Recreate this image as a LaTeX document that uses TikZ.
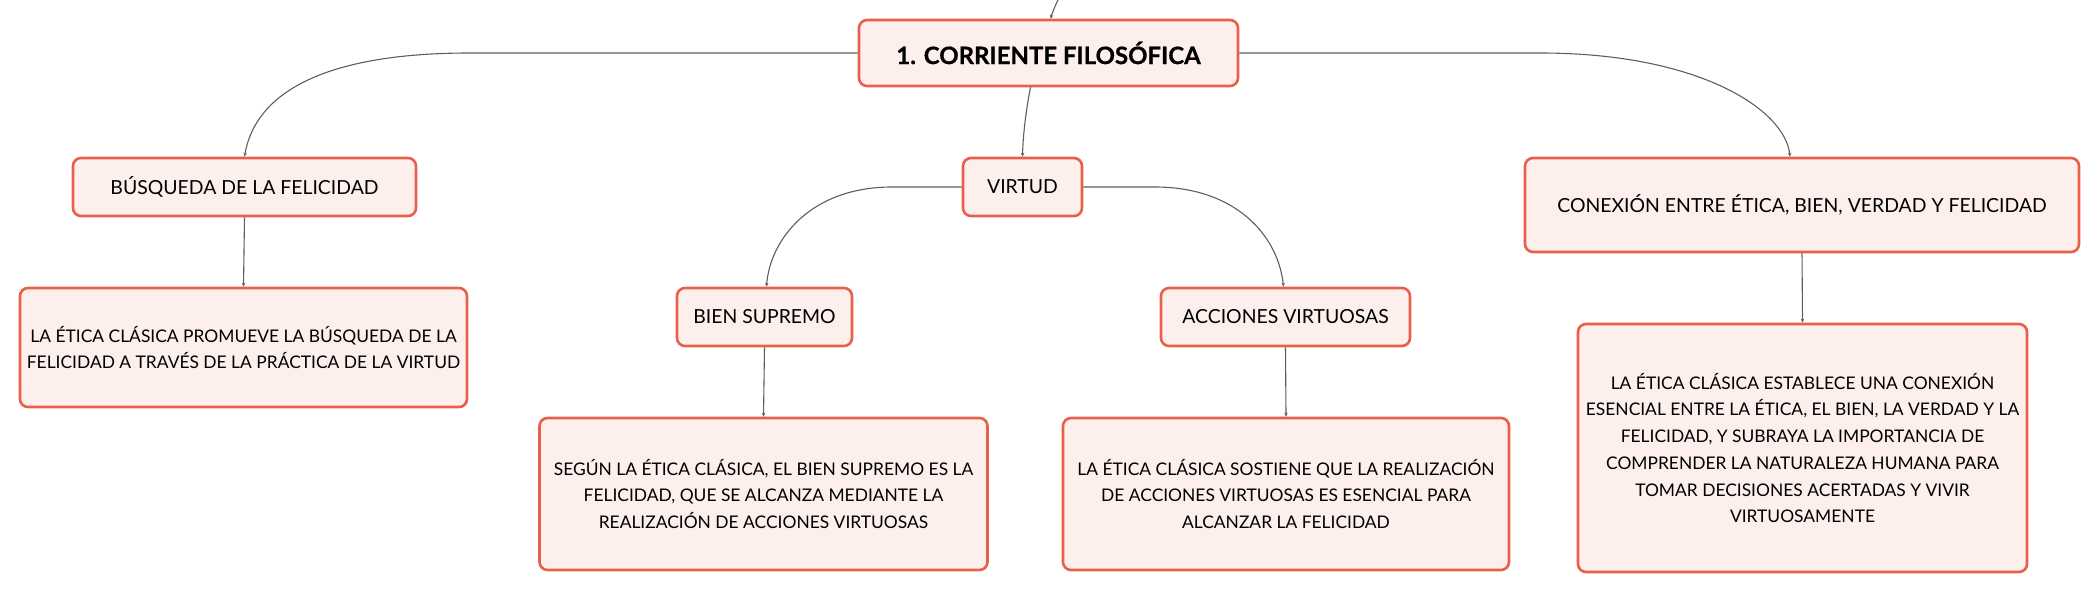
\documentclass[tikz,border=0pt]{standalone}
\usepackage{fontspec}
\setmainfont{Lato}
\newfontfamily\titlefont[BoldFeatures={FakeBold=0.6}]{Lato}
\usetikzlibrary{arrows.meta}
\definecolor{boxfill}{HTML}{FDF0EC}
\definecolor{boxline}{HTML}{E8604C}
\definecolor{linkcol}{HTML}{5E5E5E}
\tikzset{
  box/.style={draw=boxline, fill=boxfill, line width=2.6pt, rounded corners=8pt,
    align=center, inner sep=0pt, text=black},
  label/.style={box, font=\fontsize{19.4}{23}\selectfont},
  body/.style={box, font=\fontsize{17.4}{26.7}\selectfont},
  titlebox/.style={box, font=\fontsize{24}{28}\selectfont\titlefont\bfseries},
  link/.style={draw=linkcol, line width=1.1pt, -{Stealth[length=4pt,width=3.5pt]}}
}
\begin{document}
\begin{tikzpicture}[x=1pt,y=-1pt]
\useasboundingbox (0,0) rectangle (2098,594);
% nodes
\node[titlebox, minimum width=379pt, minimum height=66pt] (main) at (1048.5,53) {1. CORRIENTE FILOSÓFICA};
\node[label, minimum width=343pt, minimum height=58pt] (busq) at (244.5,187) {BÚSQUEDA DE LA FELICIDAD};
\node[body, minimum width=447pt, minimum height=119pt] (busqc) at (243.5,347.5) {LA ÉTICA CLÁSICA PROMUEVE LA BÚSQUEDA DE LA\\FELICIDAD A TRAVÉS DE LA PRÁCTICA DE LA VIRTUD};
\node[label, minimum width=119pt, minimum height=58pt] (virtud) at (1022.5,187) {VIRTUD};
\node[label, minimum width=175pt, minimum height=58pt] (bien) at (764.5,317) {BIEN SUPREMO};
\node[label, minimum width=249pt, minimum height=58pt] (acc) at (1285.5,317) {ACCIONES VIRTUOSAS};
\node[body, minimum width=448pt, minimum height=152pt] (bienc) at (763.5,494) {SEGÚN LA ÉTICA CLÁSICA, EL BIEN SUPREMO ES LA\\FELICIDAD, QUE SE ALCANZA MEDIANTE LA\\REALIZACIÓN DE ACCIONES VIRTUOSAS};
\node[body, minimum width=446pt, minimum height=152pt] (accc) at (1286,494) {LA ÉTICA CLÁSICA SOSTIENE QUE LA REALIZACIÓN\\DE ACCIONES VIRTUOSAS ES ESENCIAL PARA\\ALCANZAR LA FELICIDAD};
\node[label, minimum width=554pt, minimum height=94pt] (con) at (1802,205) {CONEXIÓN ENTRE ÉTICA, BIEN, VERDAD Y FELICIDAD};
\node[body, minimum width=449pt, minimum height=248pt] (conc) at (1802.5,448) {LA ÉTICA CLÁSICA ESTABLECE UNA CONEXIÓN\\ESENCIAL ENTRE LA ÉTICA, EL BIEN, LA VERDAD Y LA\\FELICIDAD, Y SUBRAYA LA IMPORTANCIA DE\\COMPRENDER LA NATURALEZA HUMANA PARA\\TOMAR DECISIONES ACERTADAS Y VIVIR\\VIRTUOSAMENTE};
% connectors
\coordinate (topin) at (1058,0);
\draw[link] (topin) .. controls (1054,8) and (1052,14) .. ([xshift=2pt]main.north);
\draw[link] ([xshift=-18pt]main.south) .. controls (1026,110) and (1023,135) .. (virtud.north);
\draw[link] (main.west) -- (470,53) .. controls (320,53) and (255,95) .. (busq.north);
\draw[link] (main.east) -- (1540,53) .. controls (1700,53) and (1785,110) .. ([xshift=-12pt]con.north);
\draw[link] (virtud.west) -- (892,187) .. controls (810,187) and (770,240) .. ([xshift=2pt]bien.north);
\draw[link] (virtud.east) -- (1155,187) .. controls (1235,187) and (1278,235) .. ([xshift=-2pt]acc.north);
\draw[link] (busq.south) -- (busqc.north);
\draw[link] (bien.south) -- (bienc.north);
\draw[link] (acc.south) -- (accc.north);
\draw[link] (con.south) -- (conc.north);
\end{tikzpicture}
\end{document}
